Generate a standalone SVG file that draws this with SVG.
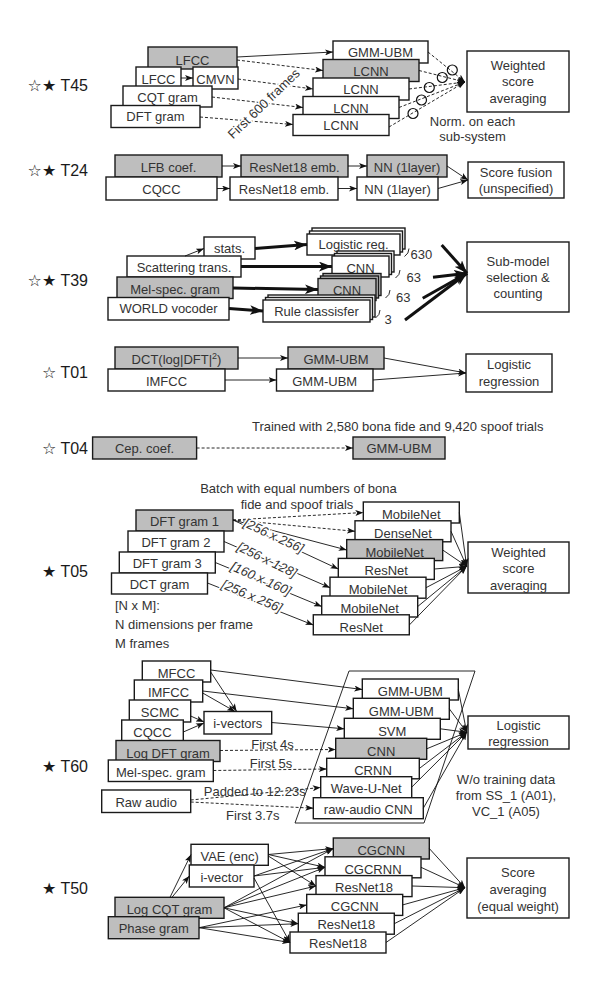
<svg xmlns="http://www.w3.org/2000/svg" width="598" height="987" viewBox="0 0 598 987">
<defs>
<style>
text{font-family:"Liberation Sans","DejaVu Sans",sans-serif;font-size:13px;fill:#333}
.c{text-anchor:middle}
.lb{font-size:16px;text-anchor:end;fill:#1a1a1a}
.b{fill:#fff;stroke:#1a1a1a;stroke-width:1.4}
.g{fill:#bebebe}
.l{fill:none;stroke:#111;stroke-width:0.9}
.a{marker-end:url(#ah)}
.d{stroke-dasharray:3 2}
.k{stroke-width:3;marker-end:url(#ahk)}
.cir{fill:none;stroke:#111;stroke-width:1.2}
.it{font-style:italic}
.halo{stroke:#fff;stroke-width:3;paint-order:stroke}
</style>
<marker id="ah" viewBox="0 0 8 6" refX="8" refY="3" markerWidth="8" markerHeight="6" markerUnits="userSpaceOnUse" orient="auto"><path d="M0,0 L8,3 L0,6 L2,3 z" fill="#111"/></marker>
<marker id="ahk" viewBox="0 0 8 6" refX="8" refY="3" markerWidth="13" markerHeight="10" markerUnits="userSpaceOnUse" orient="auto"><path d="M0,0 L8,3 L0,6 L2,3 z" fill="#111"/></marker>
</defs>
<rect width="598" height="987" fill="#fff"/>

<!-- ===== T45 ===== -->
<g id="t45-label"><text class="lb" x="88" y="91">☆★ T45</text></g>
<g id="t45-lfcc-gray"><rect class="b g" x="148" y="47" width="89" height="22"/><text class="c" x="192.5" y="65">LFCC</text></g>
<g id="t45-lfcc"><rect class="b" x="136" y="67" width="45" height="22"/><text class="c" x="158.5" y="84">LFCC</text></g>
<g id="t45-cmvn"><rect class="b" x="193" y="67" width="45" height="22"/><text class="c" x="215.5" y="84">CMVN</text></g>
<g id="t45-cqt"><rect class="b" x="123" y="86" width="89" height="21"/><text class="c" x="167.5" y="102">CQT gram</text></g>
<g id="t45-dft"><rect class="b" x="111" y="105.5" width="89" height="22"/><text class="c" x="155.5" y="121">DFT gram</text></g>
<g id="t45-gmm"><rect class="b" x="333" y="41" width="95" height="22"/><text class="c" x="380.5" y="57">GMM-UBM</text></g>
<g id="t45-lcnn1"><rect class="b g" x="323" y="59.5" width="96" height="22"/><text class="c" x="371" y="76">LCNN</text></g>
<g id="t45-lcnn2"><rect class="b" x="313" y="78" width="96" height="22"/><text class="c" x="361" y="94">LCNN</text></g>
<g id="t45-lcnn3"><rect class="b" x="303" y="96.5" width="96" height="22"/><text class="c" x="351" y="113">LCNN</text></g>
<g id="t45-lcnn4"><rect class="b" x="293" y="114.5" width="96" height="21"/><text class="c" x="341" y="130">LCNN</text></g>
<g id="t45-avg"><rect class="b" x="467" y="51" width="102" height="61"/><text class="c" x="518" y="69.5">Weighted</text><text class="c" x="518" y="86">score</text><text class="c" x="518" y="102.5">averaging</text></g>

<!-- ===== T24 ===== -->
<g id="t24-label"><text class="lb" x="88" y="176">☆★ T24</text></g>
<g id="t24-lfb"><rect class="b g" x="115" y="155" width="107" height="22"/><text class="c" x="168.5" y="172">LFB coef.</text></g>
<g id="t24-cqcc"><rect class="b" x="106" y="177" width="111" height="23"/><text class="c" x="161.5" y="194">CQCC</text></g>
<g id="t24-res-gray"><rect class="b g" x="241" y="155" width="107" height="22"/><text class="c" x="294.5" y="172">ResNet18 emb.</text></g>
<g id="t24-res"><rect class="b" x="230" y="177" width="108" height="23"/><text class="c" x="284" y="194">ResNet18 emb.</text></g>
<g id="t24-nn-gray"><rect class="b g" x="367" y="155" width="80" height="22"/><text class="c" x="407" y="172">NN (1layer)</text></g>
<g id="t24-nn"><rect class="b" x="357" y="177" width="81" height="23"/><text class="c" x="397.5" y="194">NN (1layer)</text></g>
<g id="t24-fusion"><rect class="b" x="468" y="162" width="96" height="36"/><text class="c" x="516" y="176.5">Score fusion</text><text class="c" x="516" y="193">(unspecified)</text></g>

<!-- ===== T39 ===== -->
<g id="t39-label"><text class="lb" x="88" y="286">☆★ T39</text></g>
<g id="t39-stats"><rect class="b" x="204" y="237" width="51" height="22"/><text class="c" x="229.5" y="253">stats.</text></g>
<g id="t39-scat"><rect class="b" x="127" y="256" width="114" height="21"/><text class="c" x="184" y="271.5">Scattering trans.</text></g>
<g id="t39-mel"><rect class="b g" x="117" y="277" width="116" height="21.5"/><text class="c" x="175" y="293.5">Mel-spec. gram</text></g>
<g id="t39-world"><rect class="b" x="108" y="297.5" width="121" height="22.5"/><text class="c" x="168.5" y="313">WORLD vocoder</text></g>
<g id="t39-logreg"><rect class="b" x="312" y="228" width="93" height="21"/><rect class="b" x="309.5" y="231" width="93" height="21"/><rect class="b" x="307" y="234" width="93" height="21"/><text class="c" x="353.5" y="249">Logistic reg.</text></g>
<g id="t39-cnn"><rect class="b" x="337" y="251" width="57" height="21"/><rect class="b" x="334.5" y="253.5" width="57" height="21"/><rect class="b" x="332" y="256" width="57" height="21"/><text class="c" x="360.5" y="272.5">CNN</text></g>
<g id="t39-cnn-gray"><rect class="b g" x="323" y="273.5" width="58" height="22"/><rect class="b g" x="320.5" y="276" width="58" height="22"/><rect class="b g" x="318" y="278.5" width="58" height="22"/><text class="c" x="347" y="294.5">CNN</text></g>
<g id="t39-rule"><rect class="b" x="268" y="295" width="107" height="22"/><rect class="b" x="265.5" y="297.5" width="107" height="22"/><rect class="b" x="263" y="300" width="107" height="22"/><text class="c" x="316.5" y="316">Rule classisfer</text></g>
<g id="t39-counts"><text x="410.5" y="259">630</text><text x="406.5" y="282">63</text><text x="396" y="302">63</text><text x="384.5" y="324">3</text>
<path class="l" d="M409,248.5 q0,5 -4.5,8"/><path class="l" d="M400,270 q0,5 -4.5,8"/><path class="l" d="M390,290 q0,5 -4.5,8"/><path class="l" d="M380,310 q0,5 -4.5,8"/></g>
<g id="t39-sel"><rect class="b" x="467" y="242" width="102" height="70"/><text class="c" x="518" y="266">Sub-model</text><text class="c" x="518" y="282">selection &amp;</text><text class="c" x="518" y="298">counting</text></g>

<!-- ===== T01 ===== -->
<g id="t01-label"><text class="lb" x="88" y="378">☆ T01</text></g>
<g id="t01-dct"><rect class="b g" x="115" y="347" width="123" height="22"/><text class="c" x="176.5" y="364">DCT(log|DFT|<tspan dy="-5" font-size="9">2</tspan><tspan dy="5">)</tspan></text></g>
<g id="t01-imfcc"><rect class="b" x="108" y="369" width="117" height="22"/><text class="c" x="166.5" y="386">IMFCC</text></g>
<g id="t01-gmm-gray"><rect class="b g" x="288" y="347" width="96" height="22"/><text class="c" x="336" y="364">GMM-UBM</text></g>
<g id="t01-gmm"><rect class="b" x="276.5" y="369" width="96.5" height="22"/><text class="c" x="324.7" y="386">GMM-UBM</text></g>
<g id="t01-logreg"><rect class="b" x="466" y="354" width="86" height="38"/><text class="c" x="509" y="369">Logistic</text><text class="c" x="509" y="386">regression</text></g>

<!-- ===== T04 ===== -->
<g id="t04-label"><text class="lb" x="88" y="454">☆ T04</text></g>
<g id="t04-cep"><rect class="b g" x="92.6" y="437" width="104" height="22"/><text class="c" x="144.6" y="453">Cep. coef.</text></g>
<g id="t04-gmm"><rect class="b g" x="353" y="437" width="92" height="22"/><text class="c" x="399" y="453">GMM-UBM</text></g>

<!-- ===== T05 ===== -->
<g id="t05-label"><text class="lb" x="88" y="577">★ T05</text></g>
<g id="t05-dft1"><rect class="b g" x="136" y="510" width="97" height="21"/><text class="c" x="184.5" y="526">DFT gram 1</text></g>
<g id="t05-dft2"><rect class="b" x="128" y="531" width="96" height="21"/><text class="c" x="176" y="547">DFT gram 2</text></g>
<g id="t05-dft3"><rect class="b" x="119.3" y="552" width="96" height="21"/><text class="c" x="167.3" y="568">DFT gram 3</text></g>
<g id="t05-dct"><rect class="b" x="111.5" y="573" width="96" height="21"/><text class="c" x="159.5" y="589">DCT gram</text></g>
<g id="t05-m1"><rect class="b" x="363.3" y="502" width="96" height="21"/><text class="c" x="411.3" y="518.6">MobileNet</text></g>
<g id="t05-dense"><rect class="b" x="355" y="520.8" width="96" height="21"/><text class="c" x="403" y="537.6">DenseNet</text></g>
<g id="t05-m2"><rect class="b g" x="346.7" y="539.6" width="96" height="21"/><text class="c" x="394.7" y="556.6">MobileNet</text></g>
<g id="t05-r1"><rect class="b" x="338.3" y="558.4" width="96" height="21"/><text class="c" x="386.3" y="574.6">ResNet</text></g>
<g id="t05-m3"><rect class="b" x="330" y="577.2" width="96" height="21"/><text class="c" x="378" y="594.2">MobileNet</text></g>
<g id="t05-m4"><rect class="b" x="321.7" y="596" width="96" height="21"/><text class="c" x="369.7" y="612.8">MobileNet</text></g>
<g id="t05-r2"><rect class="b" x="313.3" y="614.8" width="96" height="20"/><text class="c" x="361.3" y="631.6">ResNet</text></g>
<g id="t05-avg"><rect class="b" x="468" y="542" width="101" height="51"/><text class="c" x="518.5" y="556.5">Weighted</text><text class="c" x="518.5" y="572.5">score</text><text class="c" x="518.5" y="589.5">averaging</text></g>

<!-- ===== T60 ===== -->
<g id="t60-label"><text class="lb" x="88" y="772">★ T60</text></g>
<polygon id="t60-group" points="349,671 475,671 424,823 295,823" fill="none" stroke="#111" stroke-width="0.9"/>
<g id="t60-mfcc"><rect class="b" x="142.3" y="661" width="68.4" height="21"/><text class="c" x="176.5" y="678">MFCC</text></g>
<g id="t60-imfcc"><rect class="b" x="134.3" y="680" width="68.4" height="22"/><text class="c" x="168.5" y="697">IMFCC</text></g>
<g id="t60-scmc"><rect class="b" x="129.3" y="700" width="61.4" height="22"/><text class="c" x="160" y="717">SCMC</text></g>
<g id="t60-cqcc"><rect class="b" x="121.7" y="720" width="61.6" height="22"/><text class="c" x="152.5" y="737">CQCC</text></g>
<g id="t60-logdft"><rect class="b g" x="116" y="740.5" width="104" height="21"/><text class="c" x="168" y="757.5">Log DFT gram</text></g>
<g id="t60-mel"><rect class="b" x="108.3" y="760" width="105" height="21.5"/><text class="c" x="160.8" y="776.5">Mel-spec. gram</text></g>
<g id="t60-raw"><rect class="b" x="101.7" y="790" width="89" height="22.5"/><text class="c" x="146.2" y="806.5">Raw audio</text></g>
<g id="t60-ivec"><rect class="b" x="204" y="711.5" width="67.7" height="22.5"/><text class="c" x="237.8" y="728">i-vectors</text></g>
<g id="t60-gmm1"><rect class="b" x="362.3" y="679" width="96" height="21"/><text class="c" x="410.3" y="696">GMM-UBM</text></g>
<g id="t60-gmm2"><rect class="b" x="353.3" y="698.3" width="96" height="21"/><text class="c" x="401.3" y="716">GMM-UBM</text></g>
<g id="t60-svm"><rect class="b" x="344.3" y="718.3" width="96" height="21"/><text class="c" x="392.3" y="735.5">SVM</text></g>
<g id="t60-cnn"><rect class="b g" x="335.7" y="738.3" width="91" height="21"/><text class="c" x="381.2" y="755.5">CNN</text></g>
<g id="t60-crnn"><rect class="b" x="326.7" y="758.3" width="92.6" height="20.5"/><text class="c" x="373" y="774.8">CRNN</text></g>
<g id="t60-wave"><rect class="b" x="320.7" y="776.7" width="91" height="21"/><text class="c" x="366.2" y="793.2">Wave-U-Net</text></g>
<g id="t60-rawcnn"><rect class="b" x="313.3" y="797.7" width="110" height="21"/><text class="c" x="368.3" y="813.8">raw-audio CNN</text></g>
<g id="t60-logreg"><rect class="b" x="468" y="716" width="101" height="33"/><text class="c" x="518.5" y="729.5">Logistic</text><text class="c" x="518.5" y="745.5">regression</text></g>

<!-- ===== T50 ===== -->
<g id="t50-label"><text class="lb" x="88" y="894">★ T50</text></g>
<g id="t50-vae"><rect class="b" x="191" y="844.3" width="77.3" height="21"/><text class="c" x="229.6" y="860.5">VAE (enc)</text></g>
<g id="t50-ivec"><rect class="b" x="189.3" y="865" width="64.7" height="22"/><text class="c" x="221.7" y="881.5">i-vector</text></g>
<g id="t50-logcqt"><rect class="b g" x="115" y="897.3" width="109" height="21"/><text class="c" x="169.5" y="913.5">Log CQT gram</text></g>
<g id="t50-phase"><rect class="b g" x="108.3" y="916.7" width="90.7" height="22"/><text class="c" x="153.7" y="933">Phase gram</text></g>
<g id="t50-cgcnn-gray"><rect class="b g" x="333.3" y="838" width="96" height="21"/><text class="c" x="381.3" y="855">CGCNN</text></g>
<g id="t50-cgcrnn"><rect class="b" x="325" y="856.8" width="96" height="21"/><text class="c" x="373" y="873.8">CGCRNN</text></g>
<g id="t50-res1"><rect class="b" x="316" y="875.6" width="96" height="21"/><text class="c" x="364" y="891.6">ResNet18</text></g>
<g id="t50-cgcnn"><rect class="b" x="306.7" y="894.4" width="96" height="21"/><text class="c" x="354.7" y="910.6">CGCNN</text></g>
<g id="t50-res2"><rect class="b" x="298.3" y="913.2" width="96" height="21"/><text class="c" x="346.3" y="929.4">ResNet18</text></g>
<g id="t50-res3"><rect class="b" x="290" y="932" width="96" height="21"/><text class="c" x="338" y="948.4">ResNet18</text></g>
<g id="t50-avg"><rect class="b" x="467" y="858" width="102" height="60"/><text class="c" x="518" y="877">Score</text><text class="c" x="518" y="893.5">averaging</text><text class="c" x="518" y="911">(equal weight)</text></g>

<!-- ===== connectors ===== -->
<g id="connectors">
<!-- T45 -->
<path class="l a" d="M237,57 L333,52"/>
<path class="l a d" d="M237,60 L323,70.5"/>
<path class="l a" d="M181,78 L193,78"/>
<path class="l a d" d="M238,79 L313,89"/>
<path class="l a d" d="M212,97 L303,107.5"/>
<path class="l a d" d="M200,117 L293,124.5"/>
<path class="l a d" d="M428,52 L465,82"/>
<path class="l a d" d="M419,70.5 L465,82"/>
<path class="l a d" d="M409,89 L465,82"/>
<path class="l a d" d="M399,107.5 L465,82"/>
<path class="l a d" d="M389,127 L465,82"/>
<circle class="cir" cx="452.3" cy="70" r="5"/>
<circle class="cir" cx="442.3" cy="77.5" r="5"/>
<circle class="cir" cx="429.3" cy="87.5" r="5"/>
<circle class="cir" cx="421.5" cy="100" r="5"/>
<circle class="cir" cx="413" cy="113.5" r="5"/>
<!-- T24 -->
<path class="l a" d="M222,166 L241,166"/>
<path class="l a" d="M217,188.5 L230,188.5"/>
<path class="l a" d="M348,166 L367,166"/>
<path class="l a" d="M338,188.5 L357,188.5"/>
<path class="l a" d="M447,166 L468,180"/>
<path class="l a" d="M438,188.5 L468,180"/>
<!-- T39 -->
<path class="l a" d="M185,256 L204,248.5"/>
<path class="l k" d="M255,248.5 L307,244.5"/>
<path class="l k" d="M241,266.5 L332,266.5"/>
<path class="l k" d="M233,288 L318,289.5"/>
<path class="l k" d="M229,308.5 L263,311"/>
<path class="l k" d="M441.7,245 L467,273.3"/>
<path class="l k" d="M433,277.3 L467,273.3"/>
<path class="l k" d="M422.7,298.3 L467,273.3"/>
<path class="l k" d="M405,320 L467,273.3"/>
<!-- T01 -->
<path class="l a" d="M238,358 L288,358"/>
<path class="l a" d="M225,380 L276.5,380"/>
<path class="l a" d="M384,358 L466,373"/>
<path class="l a" d="M373,380 L466,373"/>
<!-- T04 -->
<path class="l a d" d="M196.6,448 L353,448"/>
<!-- T05 -->
<path class="l a d" d="M233,520 L363.3,512.5"/>
<path class="l a d" d="M233,520 L355,531.3"/>
<path class="l a" d="M233,520 L346.7,550"/>
<path class="l a" d="M233,520 L338.3,569"/>
<path class="l a" d="M224,541.5 L330,587.7"/>
<path class="l a" d="M215.3,562.5 L321.7,606.5"/>
<path class="l a" d="M207.5,583 L313.3,625"/>
<path class="l a" d="M459.3,512.5 L466.7,566.3"/>
<path class="l a" d="M451,531.3 L466.7,566.3"/>
<path class="l a" d="M442.7,550 L466.7,566.3"/>
<path class="l a" d="M434.3,569 L466.7,566.3"/>
<path class="l a" d="M426,587.7 L466.7,566.3"/>
<path class="l a" d="M417.7,606.5 L466.7,566.3"/>
<path class="l a" d="M409.3,625 L466.7,566.3"/>
<!-- T60 -->
<path class="l a" d="M210.7,670 L362.3,689.5"/>
<path class="l a" d="M210.7,672 L236.7,711.5"/>
<path class="l a" d="M202.7,691 L353.3,708.8"/>
<path class="l a" d="M202.7,693 L235,711.5"/>
<path class="l a" d="M190.7,716 L204,722"/>
<path class="l a" d="M183.3,732 L204,723"/>
<path class="l a" d="M271.7,722.5 L344.3,728.8"/>
<path class="l a d" d="M220,750.5 L335.7,749.5"/>
<path class="l a d" d="M213.3,770.5 L326.7,769"/>
<path class="l a d" d="M190.7,800 L320.7,787.5"/>
<path class="l a d" d="M190.7,802 L313.3,808.2"/>
<path class="l a" d="M458.3,689.5 L466.7,732.3"/>
<path class="l a" d="M449.3,708.8 L466.7,732.3"/>
<path class="l a" d="M440.3,728.8 L466.7,732.3"/>
<path class="l a" d="M426.7,748.8 L466.7,732.3"/>
<path class="l a" d="M419.3,768.5 L466.7,732.3"/>
<path class="l a" d="M411.7,787.2 L466.7,732.3"/>
<path class="l a" d="M423.3,808.2 L466.7,732.3"/>
<!-- T50 -->
<path class="l a" d="M170,897.3 L191,854.5"/>
<path class="l a" d="M172,897.3 L189.3,876"/>
<path class="l a" d="M268.3,854.5 L333.3,848.5"/>
<path class="l a" d="M268.3,854.5 L325,867.3"/>
<path class="l a" d="M268.3,856 L316,886"/>
<path class="l a" d="M254,876 L333.3,848.5"/>
<path class="l a" d="M254,876 L325,867.3"/>
<path class="l a" d="M254,878 L290,942.5"/>
<path class="l a" d="M224,907.8 L333.3,848.5"/>
<path class="l a" d="M224,907.8 L325,867.3"/>
<path class="l a" d="M224,907.8 L316,886"/>
<path class="l a" d="M224,907.8 L298.3,923.7"/>
<path class="l a" d="M224,907.8 L290,942.5"/>
<path class="l a" d="M199,927.7 L306.7,904.9"/>
<path class="l a" d="M199,927.7 L298.3,923.7"/>
<path class="l a" d="M199,927.7 L290,942.5"/>
<path class="l a" d="M429.3,848.5 L465,887.7"/>
<path class="l a" d="M421,867.3 L465,887.7"/>
<path class="l a" d="M412,886 L465,887.7"/>
<path class="l a" d="M402.7,904.9 L465,887.7"/>
<path class="l a" d="M394.3,923.7 L465,887.7"/>
<path class="l a" d="M386,942.5 L465,887.7"/>
</g>

<!-- ===== annotations ===== -->
<g id="annotations">
<text class="c halo" font-size="12.5" transform="translate(264,104) rotate(-44)" x="0" y="4">First 600 frames</text>
<text class="c" x="472.5" y="125.5">Norm. on each</text>
<text class="c" x="472.5" y="141">sub-system</text>
<text class="c" x="397.7" y="431">Trained with 2,580 bona fide and 9,420 spoof trials</text>
<text class="c" x="298.5" y="493">Batch with equal numbers of bona</text>
<text class="c" x="297" y="508.5">fide and spoof trials</text>
<text class="c it halo" transform="translate(273.7,535.5) rotate(25)" x="0" y="4.5">[256 x 256]</text>
<text class="c it halo" transform="translate(267,559.7) rotate(26)" x="0" y="4.5">[256 x 128]</text>
<text class="c it halo" transform="translate(261,578.5) rotate(24)" x="0" y="4.5">[160 x 160]</text>
<text class="c it halo" transform="translate(252,596) rotate(23)" x="0" y="4.5">[256 x 256]</text>
<text x="115" y="610">[N x M]:</text>
<text x="115" y="629">N dimensions per frame</text>
<text x="115" y="648">M frames</text>
<text class="c" x="272.5" y="748.5">First 4s</text>
<text class="c" x="271" y="767.5">First 5s</text>
<text class="c" x="254.7" y="796" font-size="10.5">Padded to 12.23s</text>
<text class="c" x="252.8" y="819.5">First 3.7s</text>
<text class="c" x="506" y="783.5">W/o training data</text>
<text class="c" x="506" y="799.5">from SS_1 (A01),</text>
<text class="c" x="506" y="815.5">VC_1 (A05)</text>
</g>
</svg>
